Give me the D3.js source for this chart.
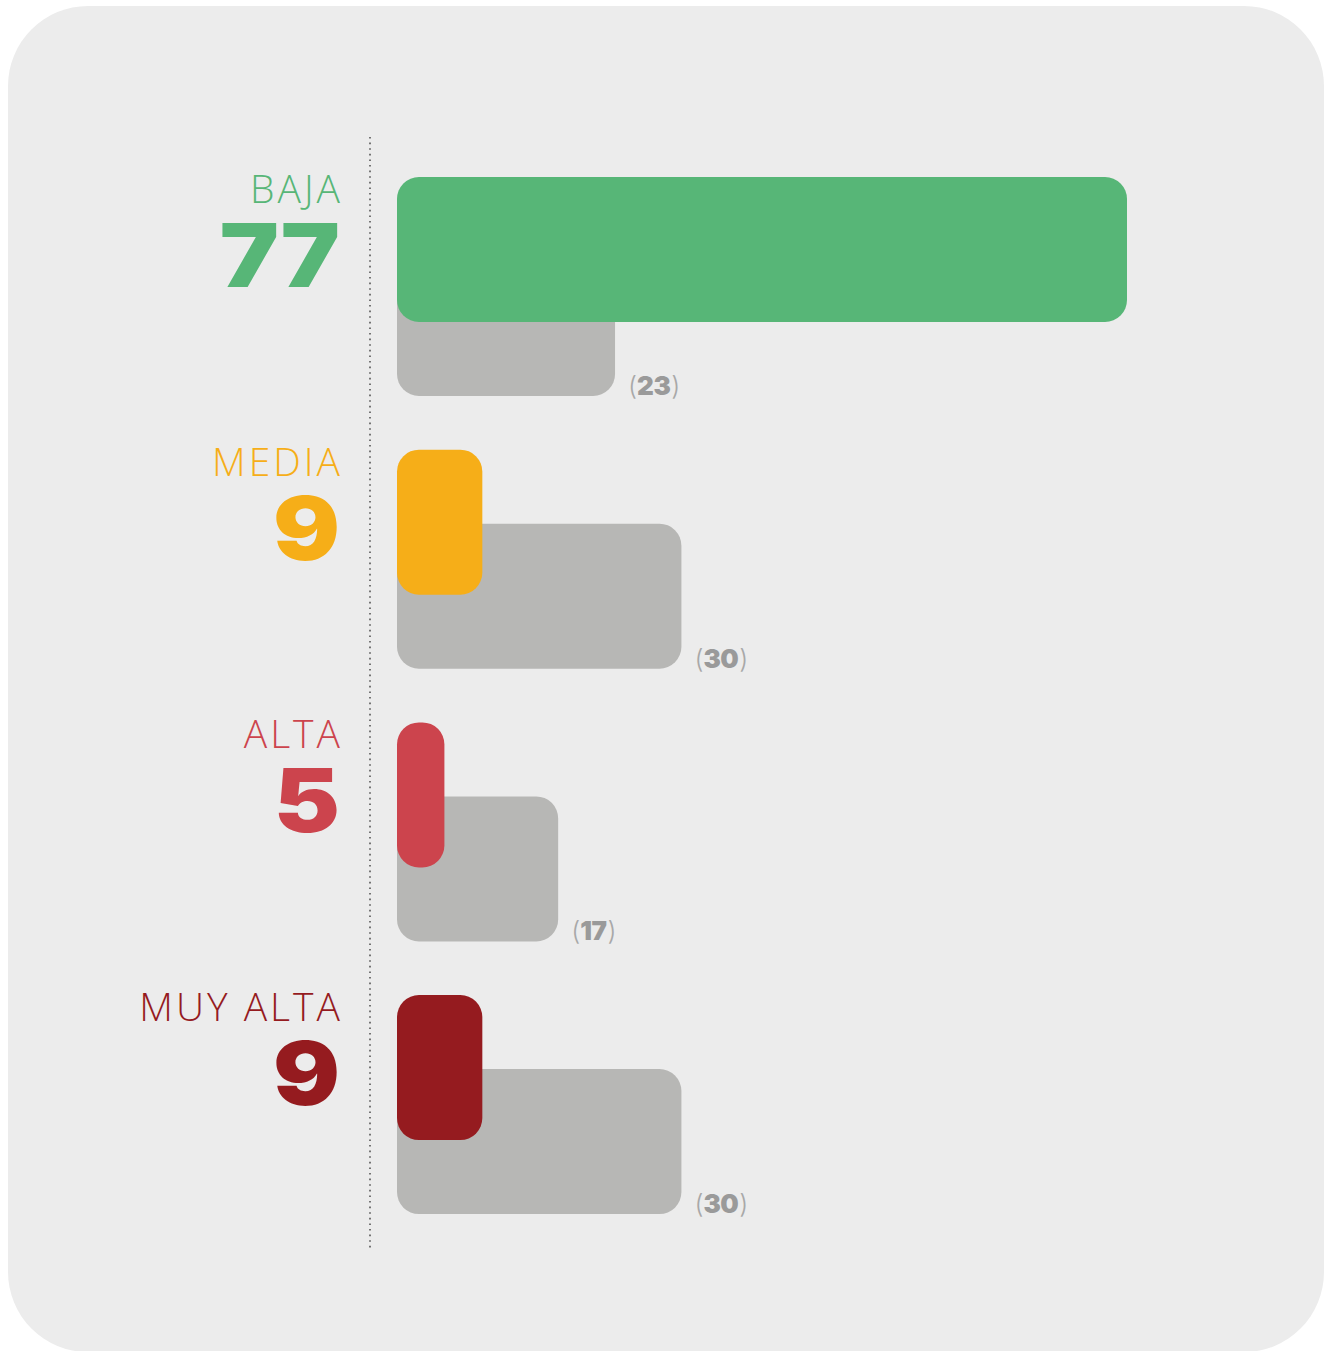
<!DOCTYPE html>
<html>
<head>
<meta charset="utf-8">
<script src="https://cdn.jsdelivr.net/npm/d3@7"></script>
<style>
  html, body { margin: 0; padding: 0; background: #ffffff; }
  svg { display: block; }
</style>
</head>
<body>
<svg id="chart" width="1330" height="1351"></svg>
<script>
// ---- data ----
const categories = ["BAJA", "MEDIA", "ALTA", "MUY ALTA"];
const currentValues = [77, 9, 5, 9];
const previousValues = [23, 30, 17, 30];
const colors = ["#57b677", "#f6ae18", "#cc444d", "#951b1f"];

const svg = d3.select("#chart");
const W = 1330, H = 1351;

// panel
svg.append("rect")
  .attr("x", 8).attr("y", 6)
  .attr("width", 1316).attr("height", 1346)
  .attr("rx", 80).attr("ry", 80)
  .attr("fill", "#ececec");

// scales
const x = d3.scaleLinear().domain([0, 77]).range([397, 1127]);
const y = d3.scaleBand().domain(categories).range([177, 177 + 4 * 272.7]).paddingInner(0);
const barH = 145;
const offset = 74;
const radius = 22;

const rows = categories.map((c, i) => ({
  cat: c, cur: currentValues[i], prev: previousValues[i], color: colors[i]
}));

// dotted axis line
svg.append("line")
  .attr("x1", 370).attr("x2", 370)
  .attr("y1", 137).attr("y2", 1248)
  .attr("stroke", "#555")
  .attr("stroke-width", 1.6)
  .attr("stroke-dasharray", "1.6 4");

// previous (gray) bars
svg.selectAll(".prev").data(rows).enter().append("rect")
  .attr("class", "prev")
  .attr("x", x(0))
  .attr("y", d => y(d.cat) + offset)
  .attr("width", d => x(d.prev) - x(0))
  .attr("height", barH)
  .attr("rx", radius).attr("ry", radius)
  .attr("fill", "#b7b7b5");

// current bars
svg.selectAll(".cur").data(rows).enter().append("rect")
  .attr("class", "cur")
  .attr("x", x(0))
  .attr("y", d => y(d.cat))
  .attr("width", d => x(d.cur) - x(0))
  .attr("height", barH)
  .attr("rx", radius).attr("ry", radius)
  .attr("fill", d => d.color);

// category names
const ls = 3;
svg.selectAll(".name").data(rows).enter().append("text")
  .attr("class", "name")
  .attr("x", 340 + ls)
  .attr("y", d => y(d.cat) + 26)
  .attr("text-anchor", "end")
  .attr("font-family", "'Open Sans', sans-serif")
  .attr("font-weight", 300)
  .attr("font-size", 39)
  .attr("letter-spacing", ls)
  .attr("fill", d => d.color)
  .text(d => d.cat);

// big numbers
svg.selectAll(".num").data(rows).enter().append("text")
  .attr("class", "num")
  .attr("transform", d => `translate(340,${y(d.cat) + 110}) scale(1.13,1)`)
  .attr("x", 0).attr("y", 0)
  .attr("text-anchor", "end")
  .attr("font-family", "Inter, 'Lato', sans-serif")
  .attr("font-weight", 900)
  .attr("font-size", 88)
  .attr("letter-spacing", 0)
  .attr("fill", d => d.color)
  .text(d => d.cur);

// previous value labels
const lbl = svg.selectAll(".plabel").data(rows).enter().append("text")
  .attr("class", "plabel")
  .attr("x", d => x(d.prev) + 13)
  .attr("y", d => y(d.cat) + offset + barH - 1)
  .attr("font-family", "Inter, sans-serif")
  .attr("font-size", 26);
lbl.append("tspan").attr("fill", "#a8a8a8").attr("font-weight", 300).text("(");
lbl.append("tspan").attr("fill", "#9a9a9a").attr("font-weight", 900).attr("letter-spacing", -0.5).text(d => d.prev);
lbl.append("tspan").attr("fill", "#a8a8a8").attr("font-weight", 300).attr("dx", 1).text(")");
</script>
</body>
</html>
